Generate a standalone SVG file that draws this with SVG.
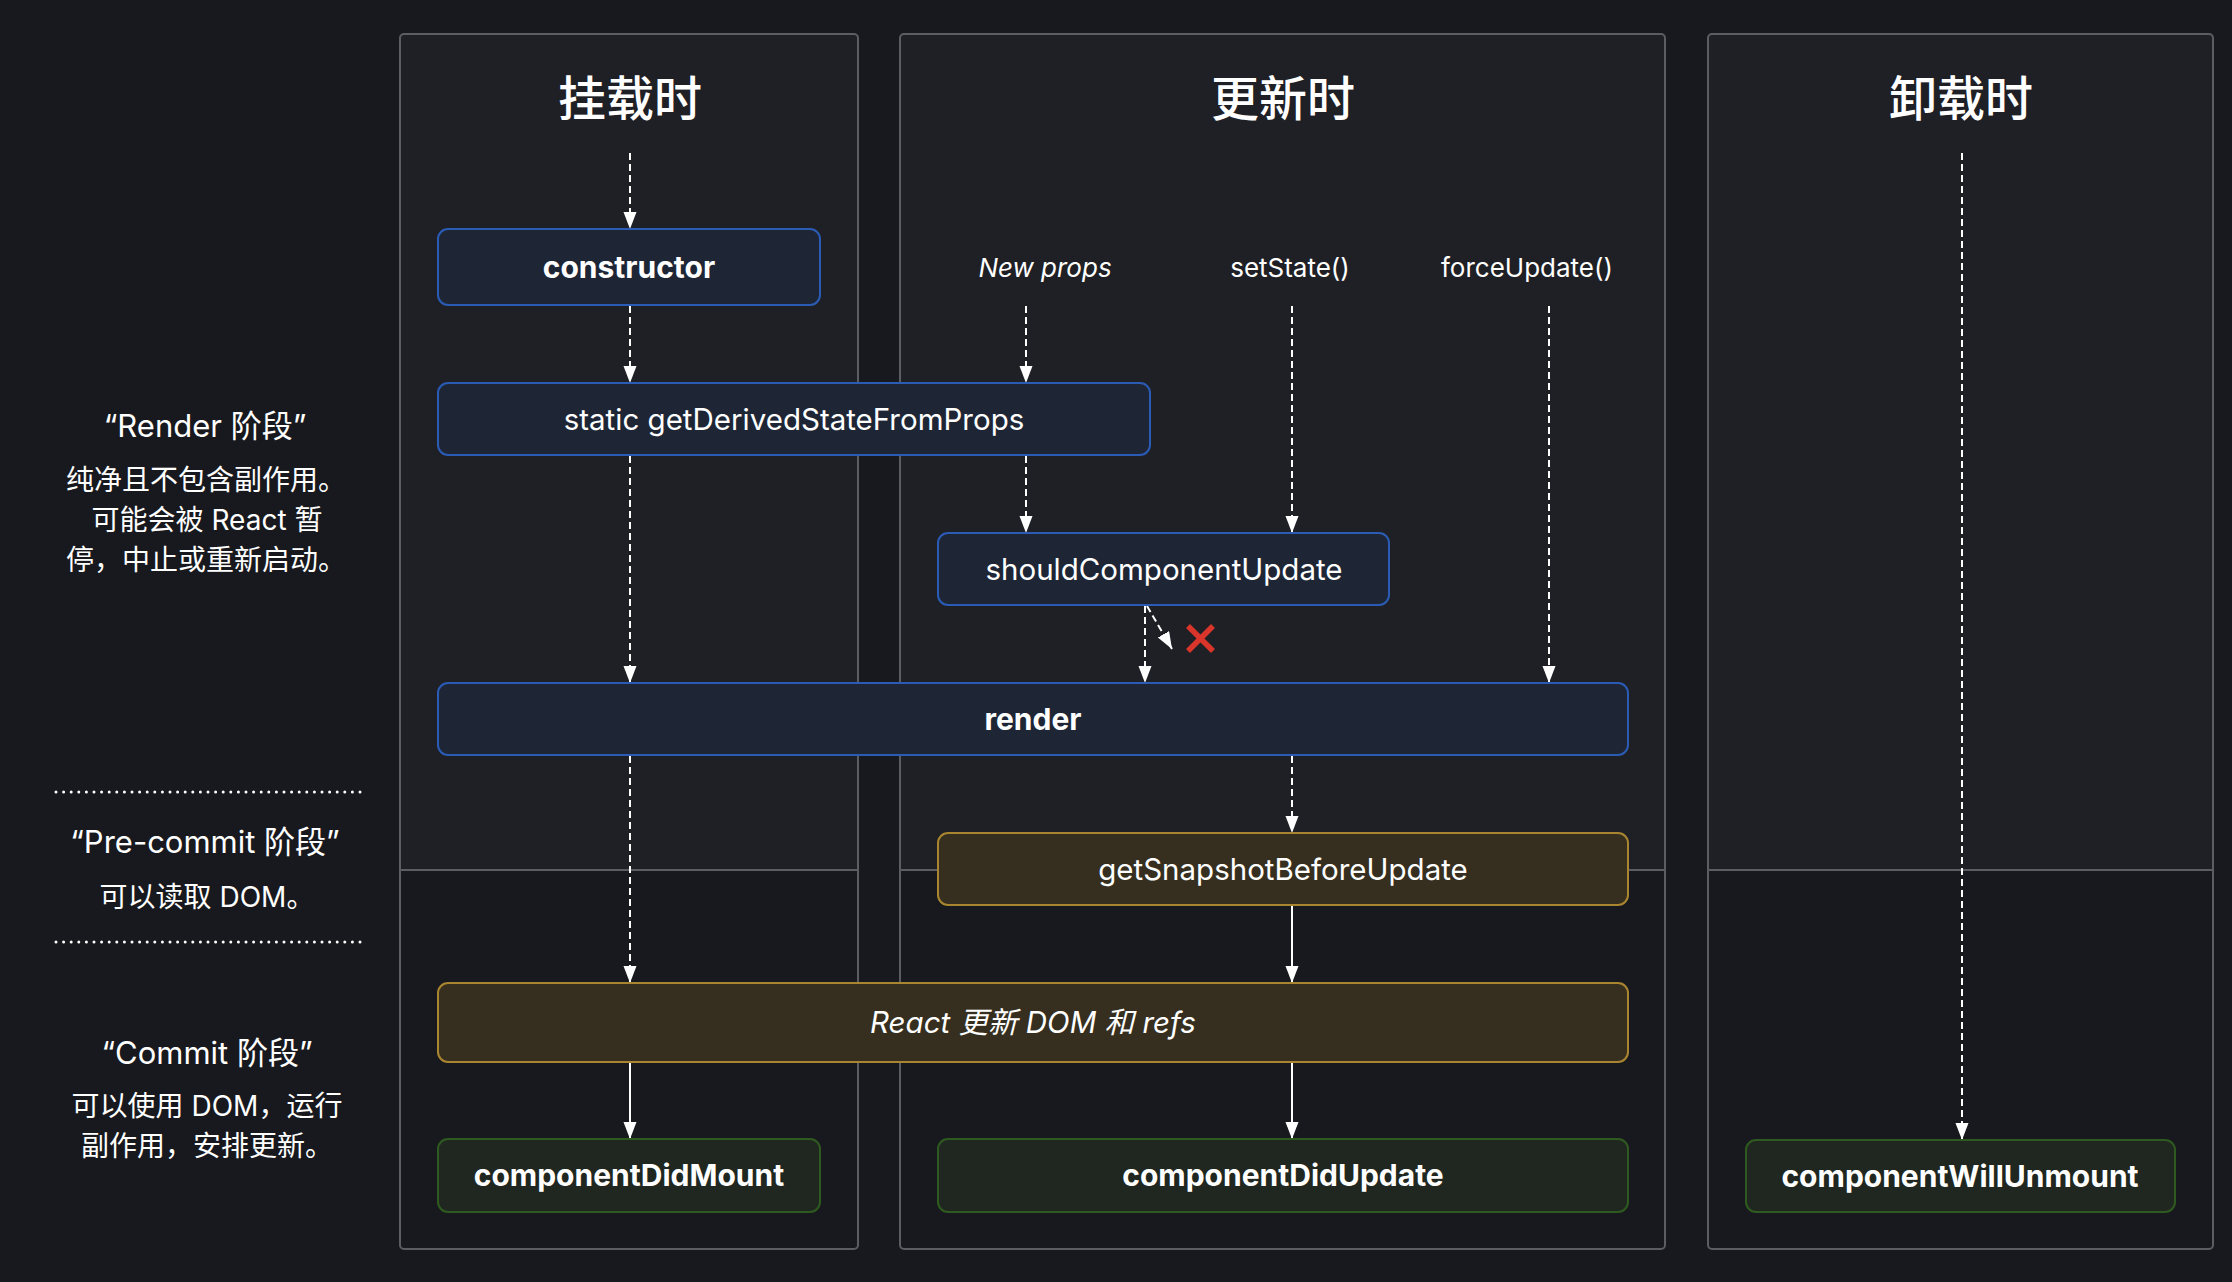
<svg xmlns="http://www.w3.org/2000/svg" width="2232" height="1282" viewBox="0 0 2232 1282">
<style>
text { font-family: Inter, "Noto Sans CJK SC", sans-serif; fill: #ffffff; }
.col { fill: none; stroke: #5c5d62; stroke-width: 2; }
.colbg { fill: #1f2025; stroke: none; }
.div { stroke: #5c5d62; stroke-width: 2; }
.blue { fill: #1e2636; stroke: #2a5bb5; stroke-width: 2; }
.gold { fill: #362f20; stroke: #a8852e; stroke-width: 2; }
.green { fill: #1f2720; stroke: #2e5a1f; stroke-width: 2; }
.dash { stroke: #ffffff; stroke-width: 2; stroke-dasharray: 7 4; fill: none; marker-end: url(#arr); }
.solid { stroke: #ffffff; stroke-width: 2; fill: none; marker-end: url(#arr); }
.dots { stroke: #ffffff; stroke-width: 3; stroke-linecap: round; stroke-dasharray: 0 7.6; }
.title { font-size: 48px; font-weight: 500; text-anchor: middle; }
.lbl { font-size: 29.5px; text-anchor: middle; }
.blbl { font-size: 30px; font-weight: 700; text-anchor: middle; }
.src { font-size: 26px; text-anchor: middle; }
.ph { font-size: 31px; text-anchor: middle; }
.desc { font-size: 28px; text-anchor: middle; }
</style>
<defs>
<marker id="arr" markerUnits="userSpaceOnUse" markerWidth="18" markerHeight="14" refX="17" refY="6.5" orient="auto">
<path d="M0,0 L17,6.5 L0,13 z" fill="#ffffff"/>
</marker>
</defs>
<rect x="0" y="0" width="2232" height="1282" fill="#18191e"/>

<g id="columns">
<g id="col-mount">
<path class="colbg" d="M400,870 V38 a4,4 0 0 1 4,-4 H854 a4,4 0 0 1 4,4 V870 z"/>
<rect class="col" x="400" y="34" width="458" height="1215" rx="4"/>
<line class="div" x1="400" y1="870" x2="858" y2="870"/>
<text class="title" x="630" y="116">挂载时</text>
</g>
<g id="col-update">
<path class="colbg" d="M900,870 V38 a4,4 0 0 1 4,-4 H1661 a4,4 0 0 1 4,4 V870 z"/>
<rect class="col" x="900" y="34" width="765" height="1215" rx="4"/>
<line class="div" x1="900" y1="870" x2="1665" y2="870"/>
<text class="title" x="1283" y="116">更新时</text>
</g>
<g id="col-unmount">
<path class="colbg" d="M1708,870 V38 a4,4 0 0 1 4,-4 H2209 a4,4 0 0 1 4,4 V870 z"/>
<rect class="col" x="1708" y="34" width="505" height="1215" rx="4"/>
<line class="div" x1="1708" y1="870" x2="2213" y2="870"/>
<text class="title" x="1961" y="116">卸载时</text>
</g>
</g>

<g id="phases">
<text class="ph" x="205" y="437">“Render 阶段”</text>
<text class="desc" x="206" y="490">纯净且不包含副作用。</text>
<text class="desc" x="207" y="530" font-size="27">可能会被 React 暂</text>
<text class="desc" x="206" y="570">停，中止或重新启动。</text>
<line class="dots" x1="56" y1="792" x2="360" y2="792"/>
<text class="ph" x="205" y="853">“Pre-commit 阶段”</text>
<text class="desc" x="207" y="907" font-size="26">可以读取 DOM。</text>
<line class="dots" x1="56" y1="942" x2="360" y2="942"/>
<text class="ph" x="207" y="1064">“Commit 阶段”</text>
<text class="desc" x="207" y="1116" font-size="27.5">可以使用 DOM，运行</text>
<text class="desc" x="207" y="1156">副作用，安排更新。</text>
</g>

<g id="sources">
<text class="src" x="1045" y="277" font-style="italic">New props</text>
<text class="src" x="1290" y="277">setState()</text>
<text class="src" x="1527" y="277">forceUpdate()</text>
</g>

<g id="connectors">
<line class="dash" x1="630" y1="153" x2="630" y2="229"/>
<line class="dash" x1="630" y1="306" x2="630" y2="383"/>
<line class="dash" x1="630" y1="456" x2="630" y2="683"/>
<line class="dash" x1="630" y1="756" x2="630" y2="983"/>
<line class="solid" x1="630" y1="1063" x2="630" y2="1139"/>
<line class="dash" x1="1026" y1="306" x2="1026" y2="383"/>
<line class="dash" x1="1026" y1="456" x2="1026" y2="533"/>
<line class="dash" x1="1292" y1="306" x2="1292" y2="533"/>
<line class="dash" x1="1549" y1="306" x2="1549" y2="683"/>
<line class="dash" x1="1145" y1="606" x2="1145" y2="683"/>
<line class="dash" x1="1147" y1="606" x2="1172" y2="649"/>
<line class="dash" x1="1292" y1="756" x2="1292" y2="833"/>
<line class="solid" x1="1292" y1="906" x2="1292" y2="983"/>
<line class="solid" x1="1292" y1="1063" x2="1292" y2="1139"/>
<line class="dash" x1="1962" y1="153" x2="1962" y2="1140"/>
<g id="blocked" stroke="#d9352a" stroke-width="5.5">
<line x1="1188" y1="626" x2="1213" y2="651"/>
<line x1="1213" y1="626" x2="1188" y2="651"/>
</g>
</g>

<g id="node-constructor">
<rect class="blue" x="438" y="229" width="382" height="76" rx="10"/>
<text class="blbl" x="629" y="278">constructor</text>
</g>
<g id="node-getDerivedStateFromProps">
<rect class="blue" x="438" y="383" width="712" height="72" rx="10"/>
<text class="lbl" x="794" y="430">static getDerivedStateFromProps</text>
</g>
<g id="node-shouldComponentUpdate">
<rect class="blue" x="938" y="533" width="451" height="72" rx="10"/>
<text class="lbl" x="1164" y="580">shouldComponentUpdate</text>
</g>
<g id="node-render">
<rect class="blue" x="438" y="683" width="1190" height="72" rx="10"/>
<text class="blbl" x="1033" y="730">render</text>
</g>
<g id="node-getSnapshotBeforeUpdate">
<rect class="gold" x="938" y="833" width="690" height="72" rx="10"/>
<text class="lbl" x="1283" y="880">getSnapshotBeforeUpdate</text>
</g>
<g id="node-react-updates">
<rect class="gold" x="438" y="983" width="1190" height="79" rx="10"/>
<text class="lbl" x="1033" y="1033" font-size="30.5" font-style="italic">React 更新 DOM 和 refs</text>
</g>
<g id="node-componentDidMount">
<rect class="green" x="438" y="1139" width="382" height="73" rx="10"/>
<text class="blbl" x="629" y="1186">componentDidMount</text>
</g>
<g id="node-componentDidUpdate">
<rect class="green" x="938" y="1139" width="690" height="73" rx="10"/>
<text class="blbl" x="1283" y="1186">componentDidUpdate</text>
</g>
<g id="node-componentWillUnmount">
<rect class="green" x="1746" y="1140" width="429" height="72" rx="10"/>
<text class="blbl" x="1960" y="1187">componentWillUnmount</text>
</g>
</svg>
